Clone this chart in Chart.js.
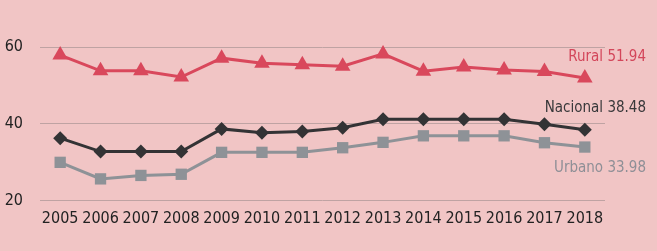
<!DOCTYPE html>
<html>
<head>
<meta charset="utf-8">
<script src="https://cdn.jsdelivr.net/npm/chart.js@4"></script>
<style>
  html, body { margin: 0; padding: 0; background: #f1c5c5; }
  #wrap { width: 657px; height: 251px; }
</style>
</head>
<body>
<div id="wrap"><canvas id="chart"></canvas></div>
<script>
const years = ['2005', '2006', '2007', '2008', '2009', '2010', '2011', '2012', '2013', '2014', '2015', '2016', '2017', '2018'];
const rural = [57.9, 53.8, 53.8, 52.2, 57.1, 55.8, 55.4, 55.0, 58.2, 53.7, 54.8, 54.0, 53.6, 51.94];
const nacional = [36.3, 32.8, 32.8, 32.8, 38.7, 37.7, 38.0, 39.0, 41.2, 41.2, 41.2, 41.2, 39.9, 38.48];
const urbano = [30.0, 25.7, 26.6, 26.9, 32.6, 32.6, 32.6, 33.8, 35.2, 36.9, 36.9, 36.9, 35.1, 33.98];
const yTicks = [20, 40, 60];

const FONT = '"DejaVu Sans Condensed", "Liberation Sans Narrow", Roboto, sans-serif';

// end-of-line labels, placed relative to the last point
const endLabels = {
  id: 'endLabels',
  afterDatasetsDraw(chart) {
    const ctx = chart.ctx;
    const offsets = [-21, -22, 21];
    ctx.save();
    ctx.font = '15px ' + FONT;
    ctx.textAlign = 'right';
    ctx.textBaseline = 'middle';
    chart.data.datasets.forEach((ds, i) => {
      const meta = chart.getDatasetMeta(i);
      const last = meta.data[meta.data.length - 1];
      const v = ds.data[ds.data.length - 1];
      ctx.fillStyle = ds.labelColor;
      ctx.fillText(ds.label + ' ' + v.toFixed(2), 646, last.y + offsets[i]);
    });
    ctx.restore();
  }
};

new Chart(document.getElementById('chart'), {
  type: 'line',
  data: {
    labels: years,
    datasets: [
      {
        label: 'Rural',
        data: rural,
        borderColor: '#d9485c',
        backgroundColor: '#d9485c',
        labelColor: '#d3465a',
        borderWidth: 3,
        pointStyle: 'triangle',
        pointRadius: 9,
        pointBorderWidth: 0
      },
      {
        label: 'Nacional',
        data: nacional,
        borderColor: '#333335',
        backgroundColor: '#333335',
        labelColor: '#38383a',
        borderWidth: 3,
        pointStyle: 'rectRot',
        pointRadius: 7,
        pointBorderWidth: 0
      },
      {
        label: 'Urbano',
        data: urbano,
        borderColor: '#8e9297',
        backgroundColor: '#8e9297',
        labelColor: '#8e8f96',
        borderWidth: 3,
        pointStyle: 'rect',
        pointRadius: 8,
        pointBorderWidth: 0
      }
    ]
  },
  options: {
    responsive: true,
    maintainAspectRatio: false,
    animation: false,
    clip: false,
    layout: { padding: { top: 47, right: 52, bottom: 23, left: 0 } },
    plugins: {
      legend: { display: false },
      tooltip: { enabled: false }
    },
    scales: {
      x: {
        offset: true,
        grid: { display: false },
        border: { display: false },
        ticks: {
          color: '#222',
          font: { family: FONT, size: 16 },
          padding: 0,
          maxRotation: 0,
          autoSkip: false
        }
      },
      y: {
        min: yTicks[0],
        max: yTicks[yTicks.length - 1],
        afterFit(scale) { scale.width = 40; },
        afterBuildTicks(scale) { scale.ticks = yTicks.map(v => ({ value: v })); },
        grid: { color: '#bfa3a3', lineWidth: 1, drawTicks: false },
        border: { display: false },
        ticks: {
          color: '#222',
          font: { family: FONT, size: 16 },
          padding: 17
        }
      }
    }
  },
  plugins: [endLabels]
});
</script>
</body>
</html>
